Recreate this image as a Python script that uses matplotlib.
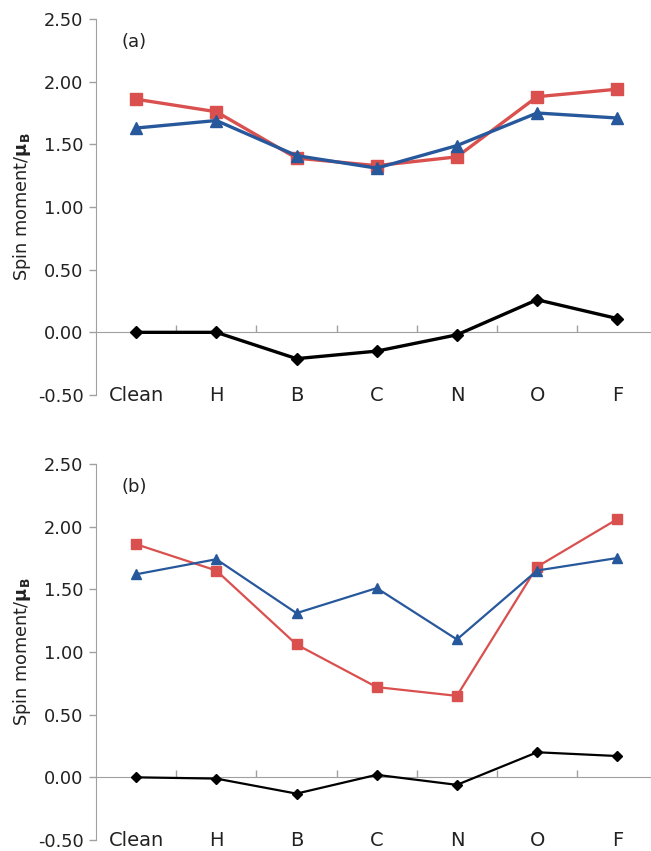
import matplotlib
matplotlib.use("Agg")
import matplotlib.pyplot as plt
from matplotlib.ticker import FixedLocator

plt.rcParams["font.family"] = ["DejaVu Sans"]

categories = ["Clean", "H", "B", "C", "N", "O", "F"]

a_red = [1.86, 1.76, 1.39, 1.33, 1.40, 1.88, 1.94]
a_blue = [1.63, 1.69, 1.41, 1.31, 1.49, 1.75, 1.71]
a_black = [0.00, 0.00, -0.21, -0.15, -0.02, 0.26, 0.11]

b_red = [1.86, 1.65, 1.06, 0.72, 0.65, 1.68, 2.06]
b_blue = [1.62, 1.74, 1.31, 1.51, 1.10, 1.65, 1.75]
b_black = [0.00, -0.01, -0.13, 0.02, -0.06, 0.20, 0.17]

yticks = [-0.5, 0.0, 0.5, 1.0, 1.5, 2.0, 2.5]
panel_labels = ["(a)", "(b)"]

RED = "#d9504e"
BLUE = "#27589c"
GRAY = "#a0a0a0"
TXT = "#222222"

fig = plt.figure(figsize=(6.51, 8.51), dpi=100)
W = 561.4 / 651
H = 376 / 851
ax_a = fig.add_axes([96 / 651, 1 - 395 / 851, W, H])
ax_b = fig.add_axes([96 / 651, 1 - 840 / 851, W, H])

def style(ax, red, blue, black, label, thick):
    x = list(range(len(categories)))
    lw = 2.4 if thick else 1.6
    ax.plot(x, red, color=RED, lw=lw, marker="s", ms=9 if thick else 7, zorder=3)
    ax.plot(x, blue, color=BLUE, lw=lw, marker="^", ms=9 if thick else 7, zorder=4)
    ax.plot(x, black, color="black", lw=lw, marker="D", ms=6 if thick else 5, zorder=5)
    ax.set_xlim(-0.5, len(categories) - 0.5)
    ax.set_ylim(-0.5, 2.5)
    ax.set_yticks(yticks)
    ax.set_yticklabels([f"{v:.2f}" for v in yticks], fontsize=12.8, color=TXT)
    ax.tick_params(axis="y", length=5, width=1, color=GRAY, pad=4)
    for s in ["top", "right"]:
        ax.spines[s].set_visible(False)
    ax.spines["left"].set_color(GRAY)
    ax.spines["bottom"].set_color(GRAY)
    ax.spines["bottom"].set_position(("data", 0))
    ax.xaxis.set_major_locator(FixedLocator([i + 0.5 for i in range(len(categories) - 1)]))
    ax.set_xticklabels([])
    ax.tick_params(axis="x", direction="in", length=5, width=1, color=GRAY)
    for i, c in enumerate(categories):
        ax.text(i, -0.5, c, ha="center", va="center", fontsize=14, color=TXT)
    ax.text(0.046, 0.94, label, transform=ax.transAxes, fontsize=13, va="center", ha="left", color=TXT)
    ax.set_ylabel(r"Spin moment/$\mathbf{\mu_B}$", fontsize=12.8, color=TXT)
    ax.yaxis.set_label_coords(-0.112, 0.5)

style(ax_a, a_red, a_blue, a_black, panel_labels[0], True)
style(ax_b, b_red, b_blue, b_black, panel_labels[1], False)

fig.savefig("out.png", dpi=100)
